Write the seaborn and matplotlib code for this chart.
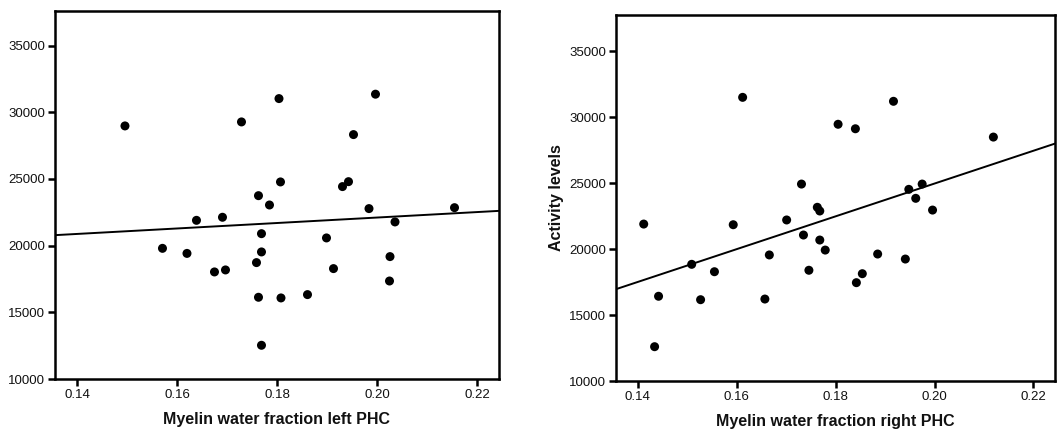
import matplotlib
matplotlib.use("Agg")
import matplotlib.pyplot as plt
import seaborn as sns
import pandas as pd

# Myelin water fraction (left / right PHC) versus activity levels
left_mwf = [0.1496, 0.1729, 0.1763, 0.1785, 0.1639, 0.1691, 0.1804, 0.1997, 0.1953, 0.1807,
            0.1943, 0.1931, 0.1984, 0.2155, 0.1571, 0.1620, 0.1675, 0.1697, 0.1759, 0.1769,
            0.1769, 0.1763, 0.1769, 0.2036, 0.1899, 0.2026, 0.1913, 0.2025, 0.1808, 0.1861]
left_activity = [28980, 29280, 23750, 23050, 21900, 22130, 31030, 31360, 28330, 24780,
                 24800, 24430, 22780, 22850, 19800, 19420, 18030, 18180, 18730, 20900,
                 19530, 16130, 12530, 21780, 20580, 19180, 18280, 17350, 16080, 16330]

right_mwf = [0.1612, 0.1805, 0.1840, 0.1917, 0.2119, 0.1731, 0.1948, 0.1975, 0.1962, 0.1763,
             0.1768, 0.1996, 0.1701, 0.1735, 0.1768, 0.1779, 0.1885, 0.1941, 0.1746, 0.1854,
             0.1842, 0.1412, 0.1593, 0.1509, 0.1555, 0.1666, 0.1442, 0.1527, 0.1657, 0.1434]
right_activity = [31490, 29450, 29110, 31190, 28480, 24920, 24520, 24920, 23840, 23160,
                  22880, 22950, 22200, 21060, 20680, 19920, 19620, 19240, 18390, 18130,
                  17450, 21890, 21840, 18840, 18280, 19550, 16420, 16160, 16210, 12600]

x_ticks = [0.14, 0.16, 0.18, 0.20, 0.22]
x_tick_labels = ["0.14", "0.16", "0.18", "0.20", "0.22"]
y_ticks = [10000, 15000, 20000, 25000, 30000, 35000]

left_df = pd.DataFrame({"mwf": left_mwf, "activity": left_activity})
right_df = pd.DataFrame({"mwf": right_mwf, "activity": right_activity})

sns.set_theme(style="white")
plt.rcParams["font.family"] = ["Liberation Sans", "DejaVu Sans"]

fig = plt.figure(figsize=(10.57, 4.34), dpi=100)
ax_l = fig.add_axes([0.052, 0.1267, 0.4201, 0.848])
ax_r = fig.add_axes([0.5828, 0.1221, 0.4155, 0.844])


def draw_panel(ax, df, xlabel, ylabel, ylim):
    ax.set_xlim(0.1356, 0.2244)
    ax.set_ylim(*ylim)
    sns.regplot(data=df, x="mwf", y="activity", ax=ax, ci=None, truncate=False,
                color="black",
                scatter_kws=dict(s=42, alpha=1, edgecolor="none", zorder=3),
                line_kws=dict(color="black", lw=1.4))
    ax.set_xlim(0.1356, 0.2244)
    ax.set_ylim(*ylim)
    ax.set_xticks(x_ticks)
    ax.set_xticklabels(x_tick_labels)
    ax.set_yticks(y_ticks)
    ax.set_yticklabels([str(v) for v in y_ticks])
    for sp in ax.spines.values():
        sp.set_visible(True)
        sp.set_color("black")
        sp.set_linewidth(1.8)
    ax.tick_params(axis="both", direction="out", length=5, width=1.8, color="black",
                   labelsize=9.5, labelcolor="#111111", pad=2,
                   bottom=True, left=True, top=False, right=False)
    ax.set_xlabel(xlabel, fontsize=11.5, fontweight="bold", labelpad=8, color="#111111")
    ax.set_ylabel(ylabel, fontsize=11.5, fontweight="bold", labelpad=4, color="#111111")
    ax.set_facecolor("white")


draw_panel(ax_l, left_df, "Myelin water fraction left PHC", "", (10000, 37600))
draw_panel(ax_r, right_df, "Myelin water fraction right PHC", "Activity levels", (10000, 37750))

fig.savefig("out.png", dpi=100, facecolor="white")
